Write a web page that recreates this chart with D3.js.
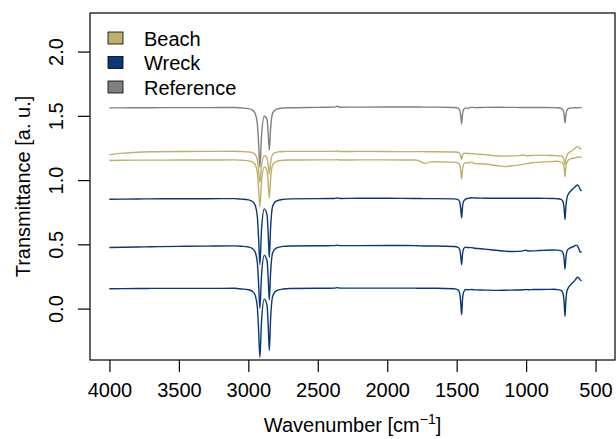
<!DOCTYPE html>
<html>
<head>
<meta charset="utf-8">
<script src="https://cdn.jsdelivr.net/npm/d3@7"></script>
<style>
  body { margin: 0; background: #fff; }
  svg { display: block; font-family: "Liberation Sans", Arial, Helvetica, sans-serif; }
  .axisGroup text { font-size: 20px; fill: #000; }
  .axisGroup line { stroke: #000; }
  .axisLabel { font-size: 20px; fill: #000; }
  .spectrum { fill: none; stroke-width: 1.4; stroke-linejoin: round; }
</style>
</head>
<body>
<div id="container"></div>
<script>
// wavenumber grid shared by all spectra (cm^-1)
var wavenumber = [
  4000, 3900, 3800, 3700, 3500, 3300, 3100, 3050,
  3000, 2970, 2950, 2935, 2925, 2917, 2905, 2885, 2865, 2855, 2849, 2840, 2825, 2800, 2750, 2700,
  2500, 2380, 2360, 2340, 2200, 2000, 1800, 1770, 1740, 1720, 1700, 1650,
  1520, 1490, 1478, 1470, 1464, 1458, 1450, 1435, 1420, 1390, 1370,
  1300, 1200, 1150, 1100, 1050, 1015, 1000, 985, 950, 900, 800,
  780, 750, 735, 726, 720, 714, 705, 690, 670, 650, 640, 630, 620, 610, 600
];

var reference = [
  1.562, 1.562, 1.563, 1.563, 1.564, 1.564, 1.565, 1.561,
  1.556, 1.544, 1.516, 1.437, 1.262, 1.100, 1.345, 1.497, 1.468, 1.330, 1.233, 1.396, 1.521, 1.550, 1.561, 1.563,
  1.566, 1.568, 1.574, 1.567, 1.568, 1.569, 1.569, 1.569, 1.568, 1.568, 1.568, 1.568,
  1.565, 1.560, 1.544, 1.490, 1.437, 1.512, 1.549, 1.562, 1.558, 1.568, 1.564,
  1.566, 1.567, 1.566, 1.566, 1.565, 1.565, 1.565, 1.565, 1.565, 1.565, 1.564,
  1.563, 1.559, 1.547, 1.504, 1.444, 1.504, 1.547, 1.559, 1.562, 1.563, 1.563, 1.563, 1.564, 1.564, 1.563
];

var beachA = [
  1.198, 1.210, 1.217, 1.220, 1.222, 1.223, 1.224, 1.222,
  1.219, 1.213, 1.199, 1.157, 1.066, 0.981, 1.109, 1.189, 1.173, 1.099, 1.048, 1.134, 1.200, 1.216, 1.222, 1.223,
  1.223, 1.223, 1.226, 1.222, 1.223, 1.222, 1.221, 1.221, 1.221, 1.220, 1.220, 1.220,
  1.218, 1.216, 1.208, 1.184, 1.160, 1.193, 1.208, 1.210, 1.207, 1.206, 1.204,
  1.198, 1.187, 1.186, 1.188, 1.190, 1.196, 1.189, 1.190, 1.192, 1.192, 1.191,
  1.189, 1.187, 1.180, 1.155, 1.120, 1.160, 1.195, 1.215, 1.228, 1.245, 1.255, 1.262, 1.255, 1.245, 1.240
];

var beachB = [
  1.152, 1.154, 1.155, 1.155, 1.156, 1.156, 1.157, 1.154,
  1.150, 1.141, 1.119, 1.057, 0.919, 0.792, 0.984, 1.102, 1.072, 0.946, 0.858, 1.005, 1.118, 1.144, 1.154, 1.156,
  1.157, 1.157, 1.159, 1.156, 1.157, 1.157, 1.156, 1.150, 1.135, 1.130, 1.140, 1.143,
  1.140, 1.134, 1.118, 1.062, 1.007, 1.085, 1.123, 1.136, 1.133, 1.140, 1.128,
  1.125, 1.110, 1.105, 1.112, 1.118, 1.124, 1.127, 1.130, 1.135, 1.140, 1.145,
  1.146, 1.142, 1.130, 1.090, 1.025, 1.095, 1.140, 1.160, 1.168, 1.172, 1.175, 1.180, 1.178, 1.180, 1.178
];

var wreckA = [
  0.851, 0.852, 0.853, 0.854, 0.855, 0.855, 0.856, 0.852,
  0.846, 0.833, 0.802, 0.715, 0.522, 0.343, 0.613, 0.776, 0.728, 0.534, 0.398, 0.624, 0.796, 0.837, 0.850, 0.854,
  0.856, 0.857, 0.861, 0.857, 0.858, 0.858, 0.857, 0.857, 0.856, 0.856, 0.856, 0.856,
  0.854, 0.848, 0.829, 0.767, 0.706, 0.793, 0.835, 0.852, 0.858, 0.863, 0.860,
  0.859, 0.858, 0.858, 0.858, 0.858, 0.859, 0.858, 0.858, 0.858, 0.858, 0.857,
  0.855, 0.850, 0.834, 0.775, 0.692, 0.790, 0.865, 0.900, 0.925, 0.945, 0.955, 0.962, 0.950, 0.925, 0.915
];

var wreckB = [
  0.475, 0.477, 0.479, 0.481, 0.484, 0.486, 0.488, 0.485,
  0.479, 0.467, 0.438, 0.355, 0.171, 0.002, 0.258, 0.414, 0.370, 0.192, 0.067, 0.274, 0.434, 0.471, 0.484, 0.487,
  0.489, 0.490, 0.494, 0.490, 0.490, 0.491, 0.490, 0.488, 0.487, 0.487, 0.487, 0.487,
  0.483, 0.477, 0.459, 0.399, 0.342, 0.424, 0.465, 0.478, 0.475, 0.474, 0.470,
  0.463, 0.452, 0.447, 0.444, 0.445, 0.451, 0.455, 0.448, 0.449, 0.452, 0.456,
  0.455, 0.451, 0.436, 0.382, 0.307, 0.390, 0.450, 0.468, 0.478, 0.488, 0.494, 0.488, 0.465, 0.440, 0.442
];

var wreckC = [
  0.154, 0.155, 0.156, 0.157, 0.157, 0.157, 0.158, 0.153,
  0.147, 0.134, 0.101, 0.010, -0.193, -0.380, -0.098, 0.074, 0.022, -0.182, -0.326, -0.088, 0.095, 0.138, 0.152, 0.156,
  0.158, 0.159, 0.163, 0.159, 0.159, 0.159, 0.159, 0.158, 0.158, 0.158, 0.158, 0.158,
  0.154, 0.145, 0.119, 0.035, -0.049, 0.070, 0.127, 0.148, 0.147, 0.148, 0.146,
  0.144, 0.142, 0.143, 0.144, 0.145, 0.147, 0.148, 0.147, 0.148, 0.149, 0.150,
  0.148, 0.142, 0.121, 0.045, -0.060, 0.060, 0.140, 0.172, 0.195, 0.218, 0.232, 0.245, 0.238, 0.222, 0.218
];

var legendLabels = ["Beach", "Wreck", "Reference"];
var legendColors = ["#c0b06e", "#0b3677", "#808080"];
var xTicks = [4000, 3500, 3000, 2500, 2000, 1500, 1000, 500];
var yTicks = [0, 0.5, 1, 1.5, 2];

var width = 616,
    height = 439,
    margin = { top: 13, right: 1, bottom: 79, left: 90 };

var container = d3.select("#container");
var chart = container
  .append("svg")
    .attr("width", width)
    .attr("height", height);

var x = d3.scaleLinear()
  .domain([4140, 360])
  .range([margin.left, width - margin.right]);
var y = d3.scaleLinear()
  .domain([-0.4, 2.3])
  .range([height - margin.bottom, margin.top]);

// spectra: reference first, wreck last (on top)
var series = [
  { values: reference, color: legendColors[2] },
  { values: beachA, color: legendColors[0] },
  { values: beachB, color: legendColors[0] },
  { values: wreckA, color: legendColors[1] },
  { values: wreckB, color: legendColors[1] },
  { values: wreckC, color: legendColors[1] }
];

var line = d3.line()
  .x(function(d, i) { return x(wavenumber[i]); })
  .y(function(d) { return y(d); })
  .curve(d3.curveMonotoneX);

chart.append("g")
  .selectAll(".spectrum")
    .data(series)
  .enter().append("path")
    .classed("spectrum", true)
    .attr("stroke", function(d) { return d.color; })
    .attr("d", function(d) { return line(d.values); });

// box
chart.append("rect")
  .attr("x", margin.left)
  .attr("y", margin.top)
  .attr("width", width - margin.right - margin.left)
  .attr("height", height - margin.bottom - margin.top)
  .attr("fill", "none")
  .attr("stroke", "#000")
  .attr("stroke-width", 1.2);

var xAxis = d3.axisBottom(x)
  .tickValues(xTicks)
  .tickFormat(d3.format("d"))
  .tickSizeInner(12)
  .tickSizeOuter(0)
  .tickPadding(11);
var xAxisGroup = chart.append("g")
  .classed("axisGroup", true)
  .attr("transform", "translate(0, " + (height - margin.bottom) + ")")
  .call(xAxis);
xAxisGroup.select(".domain").remove();
xAxisGroup.selectAll("text").attr("font-family", null).attr("font-size", null);
xAxisGroup.selectAll("line").attr("stroke-width", 1.2);

var yAxis = d3.axisLeft(y)
  .tickValues(yTicks)
  .tickFormat(d3.format(".1f"))
  .tickSizeInner(12)
  .tickSizeOuter(0);
var yAxisGroup = chart.append("g")
  .classed("axisGroup", true)
  .attr("transform", "translate(" + margin.left + ", 0)")
  .call(yAxis);
yAxisGroup.select(".domain").remove();
yAxisGroup.selectAll("line").attr("stroke-width", 1.2);
yAxisGroup.selectAll("text")
  .attr("font-family", null)
  .attr("font-size", null)
  .attr("x", null)
  .attr("dy", null)
  .attr("text-anchor", "middle")
  .attr("transform", "translate(-27, 0) rotate(-90)");

// axis titles
var xAxisLabel = chart.append("text")
  .classed("axisLabel", true)
  .attr("x", (margin.left + width - margin.right) / 2)
  .attr("y", 432)
  .attr("text-anchor", "middle");
xAxisLabel.append("tspan").text("Wavenumber [cm");
xAxisLabel.append("tspan")
  .attr("dy", -8)
  .style("font-size", "14px")
  .text("\u22121");
xAxisLabel.append("tspan")
  .attr("dy", 8)
  .text("]");

chart.append("text")
  .classed("axisLabel", true)
  .attr("text-anchor", "middle")
  .attr("transform", "translate(30, " + ((margin.top + height - margin.bottom) / 2) + ") rotate(-90)")
  .text("Transmittance [a. u.]");

// legend
var legend = chart.append("g")
  .selectAll(".legendItem")
    .data(legendLabels)
  .enter().append("g")
    .classed("legendItem", true)
    .attr("transform", function(d, i) { return "translate(108, " + (32 + i * 24.5) + ")"; });
legend.append("rect")
  .attr("width", 15)
  .attr("height", 12)
  .attr("fill", function(d, i) { return legendColors[i]; })
  .attr("stroke", "#000")
  .attr("stroke-width", 0.8);
legend.append("text")
  .classed("axisLabel", true)
  .attr("x", 36)
  .attr("y", 13.5)
  .text(function(d) { return d; });
</script>
</body>
</html>
